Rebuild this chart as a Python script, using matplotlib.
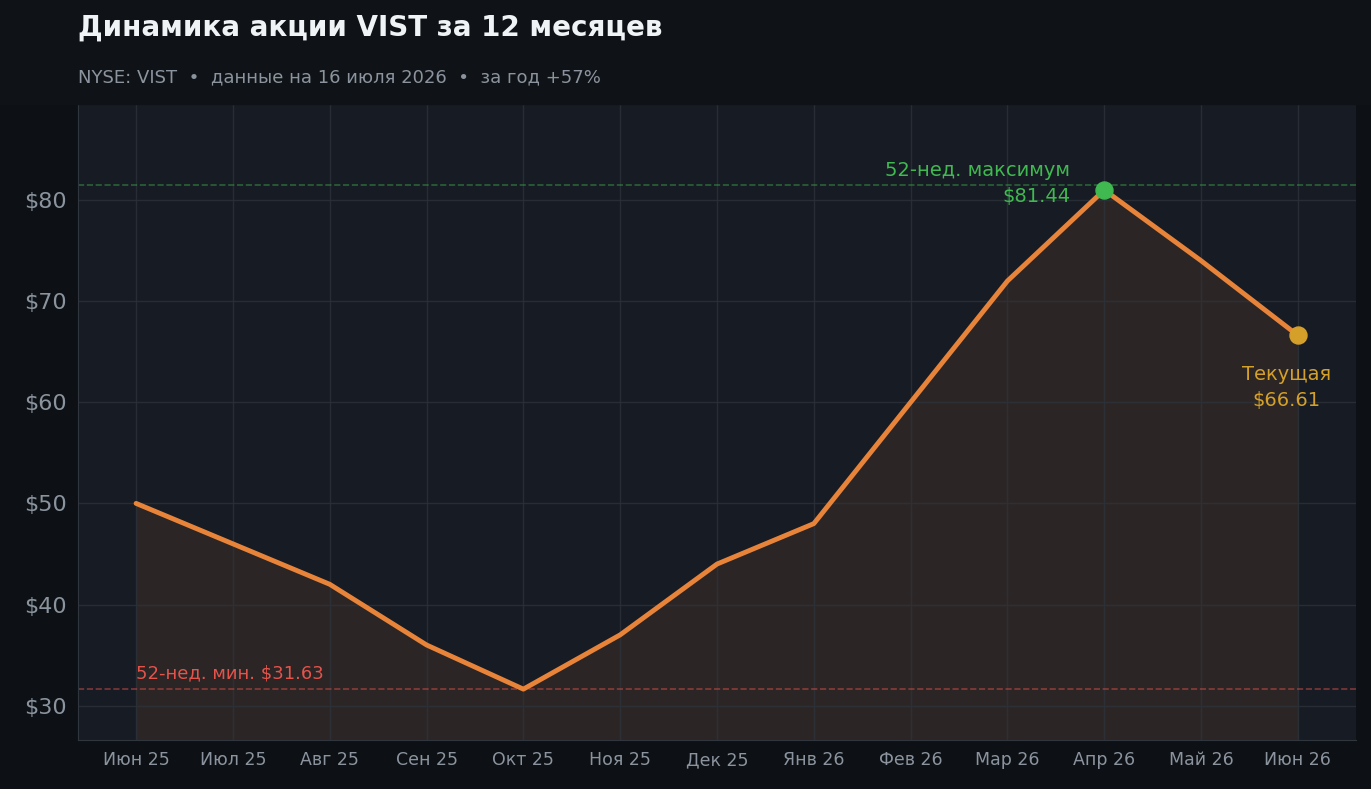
import matplotlib
matplotlib.use("Agg")
import matplotlib.pyplot as plt
plt.rcParams['font.family'] = ['DejaVu Sans']

months = ["Июн 25","Июл 25","Авг 25","Сен 25","Окт 25","Ноя 25","Дек 25","Янв 26","Фев 26","Мар 26","Апр 26","Май 26","Июн 26"]
prices = [50, 46, 42, 36, 31.63, 37, 44, 48, 60, 72, 81, 74, 66.61]
high52 = 81.44
low52 = 31.63
yticks = [30, 40, 50, 60, 70, 80]

fig = plt.figure(figsize=(13.71, 7.89), dpi=100, facecolor="#0d1115")
fig.patches.append(plt.Rectangle((0, 1-104/789), 1, 104/789, transform=fig.transFigure, color="#0f1317", zorder=0))
ax = fig.add_axes([78/1371, 1-740/789, (1356-78)/1371, (740-104)/789])
ax.set_facecolor("#171b23")
x = list(range(len(months)))
ax.fill_between(x, prices, 26.6, color="#e8843a", alpha=0.1, lw=0)
ax.plot(x, prices, color="#e8843a", lw=3.5, solid_capstyle="round", zorder=3)
ax.axhline(high52, color="#3fb950", ls="--", lw=1.2, alpha=0.45)
ax.axhline(low52, color="#e5534b", ls="--", lw=1.2, alpha=0.5)
ax.scatter([10], [prices[10]], s=150, color="#3fb950", zorder=4)
ax.scatter([12], [prices[12]], s=150, color="#d4a02a", zorder=4)
ax.text(9.65, 82.9, "52-нед. максимум", color="#3fb950", fontsize=14, ha="right", va="center")
ax.text(9.65, 80.4, f"${high52:.2f}", color="#3fb950", fontsize=14, ha="right", va="center")
ax.text(11.88, 62.7, "Текущая", color="#d4a02a", fontsize=14, ha="center", va="center")
ax.text(11.88, 60.2, f"${prices[12]:.2f}", color="#d4a02a", fontsize=14, ha="center", va="center")
ax.text(0, 32.3, f"52-нед. мин. ${low52:.2f}", color="#e5534b", fontsize=13, ha="left", va="bottom")
ax.set_xlim(-0.6, 12.6)
ax.set_ylim(26.6, 89.5)
ax.set_xticks(x)
ax.set_xticklabels(months, color="#8b949e", fontsize=12.5)
ax.set_yticks(yticks)
ax.set_yticklabels([f"${v}" for v in yticks], color="#8b949e", fontsize=16)
ax.tick_params(length=0, pad=8)
ax.grid(True, color="#2d323a", lw=1, alpha=0.8)
for s in ["top", "right"]:
    ax.spines[s].set_visible(False)
for s in ["left", "bottom"]:
    ax.spines[s].set_color("#30363d")
fig.text(78/1371, 1-28/789, "Динамика акции VIST за 12 месяцев", color="#f0f3f6", fontsize=20, fontweight="bold", va="center")
fig.text(78/1371, 1-77/789, "NYSE: VIST  •  данные на 16 июля 2026  •  за год +57%", color="#8b949e", fontsize=13, va="center")
fig.savefig("out.png", dpi=100, facecolor=fig.get_facecolor())
